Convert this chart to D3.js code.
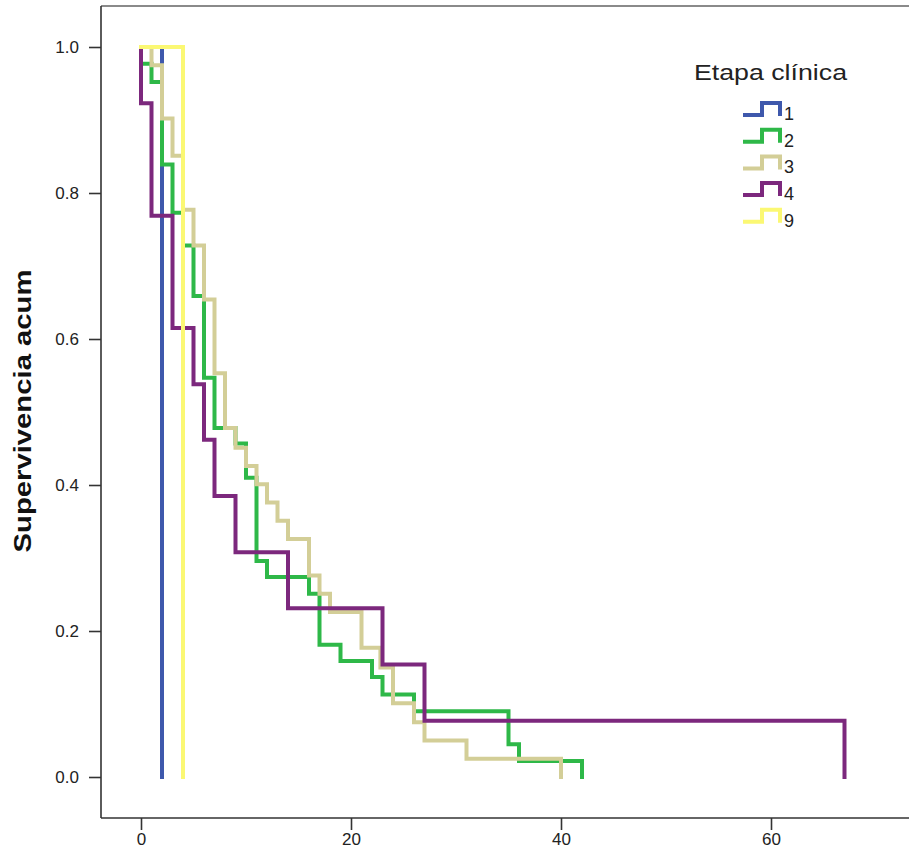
<!DOCTYPE html>
<html>
<head>
<meta charset="utf-8">
<script src="https://cdn.jsdelivr.net/npm/d3@7"></script>
<style>
  body { margin: 0; background: #fff; }
  svg { display: block; }
  text { font-family: "Liberation Sans", Arial, sans-serif; }
</style>
</head>
<body>
<svg id="chart" width="909" height="857"></svg>
<script>
// ---- data ----
const groups = ["1", "2", "3", "4", "9"];
const colors = ["#3E58AC", "#2EB848", "#D3CE97", "#7C287D", "#FBF873"];

const times1 = [0, 2];
const surv1  = [1, 0];

const times2 = [0, 0, 1, 2, 3, 4, 5, 6, 7, 9, 10, 11, 12, 16, 17, 19, 22, 23, 26, 35, 36, 42];
const surv2  = [1, 0.977, 0.952, 0.839, 0.773, 0.728, 0.659, 0.547, 0.478, 0.457, 0.410, 0.296, 0.274, 0.251, 0.181, 0.159, 0.137, 0.113, 0.090, 0.045, 0.022, 0];

const times3 = [0, 1, 2, 3, 4, 5, 6, 7, 8, 9, 10, 11, 12, 13, 14, 16, 17, 18, 21, 22.8, 24, 26, 27, 31, 40];
const surv3  = [1, 0.975, 0.902, 0.851, 0.777, 0.728, 0.654, 0.553, 0.478, 0.451, 0.426, 0.401, 0.376, 0.351, 0.326, 0.276, 0.251, 0.226, 0.177, 0.150, 0.101, 0.075, 0.050, 0.025, 0];

const times4 = [0, 0, 1, 3, 5, 6, 7, 9, 14, 23, 27, 67];
const surv4  = [1, 0.923, 0.769, 0.615, 0.538, 0.462, 0.385, 0.308, 0.231, 0.154, 0.077, 0];

const times9 = [0, 4];
const surv9  = [1, 0];

const xTicks = [0, 20, 40, 60];
const yTicks = [0, 0.2, 0.4, 0.6, 0.8, 1.0];

const yTitle = "Supervivencia acum";
const legendTitle = "Etapa clínica";

// ---- drawing ----
const svg = d3.select("#chart");
svg.append("rect").attr("width", 909).attr("height", 857).attr("fill", "#fff");

const x = d3.scaleLinear().domain([0, 60]).range([141, 771]);
const y = d3.scaleLinear().domain([0, 1]).range([777, 47]);

const plotLeft = 101, plotTop = 6, plotBottom = 818, plotRight = 920;

// frame
svg.append("line").attr("x1", plotLeft).attr("x2", plotRight).attr("y1", plotTop).attr("y2", plotTop)
  .attr("stroke", "#8a8a8a").attr("stroke-width", 2);
svg.append("line").attr("x1", plotLeft).attr("x2", plotLeft).attr("y1", plotTop).attr("y2", plotBottom)
  .attr("stroke", "#333").attr("stroke-width", 1.6);
svg.append("line").attr("x1", plotLeft).attr("x2", plotRight).attr("y1", plotBottom).attr("y2", plotBottom)
  .attr("stroke", "#333").attr("stroke-width", 1.6);

// axes
const yAxis = d3.axisLeft(y).tickValues(yTicks).tickFormat(d3.format(".1f")).tickSize(12).tickPadding(10);
const gy = svg.append("g").attr("transform", `translate(${plotLeft},0)`).call(yAxis);
gy.select(".domain").remove();
gy.selectAll(".tick line").attr("stroke", "#333").attr("stroke-width", 1.6);
gy.selectAll(".tick text").attr("font-size", 17).attr("fill", "#222")
  .attr("font-family", "'Liberation Sans', Arial, sans-serif");

const xAxis = d3.axisBottom(x).tickValues(xTicks).tickFormat(d3.format("d")).tickSize(12).tickPadding(3);
const gx = svg.append("g").attr("transform", `translate(0,${plotBottom})`).call(xAxis);
gx.select(".domain").remove();
gx.selectAll(".tick line").attr("stroke", "#333").attr("stroke-width", 1.6);
gx.selectAll(".tick text").attr("font-size", 17).attr("fill", "#222")
  .attr("font-family", "'Liberation Sans', Arial, sans-serif");

// y title
svg.append("text")
  .attr("transform", "translate(31,411) rotate(-90)")
  .attr("text-anchor", "middle")
  .attr("font-size", 23).attr("font-weight", "bold").attr("fill", "#111")
  .attr("textLength", 283).attr("lengthAdjust", "spacingAndGlyphs")
  .text(yTitle);

// survival curves
const series = [
  { t: times1, s: surv1 },
  { t: times2, s: surv2 },
  { t: times3, s: surv3 },
  { t: times4, s: surv4 },
  { t: times9, s: surv9 }
];
const line = d3.line().x(d => x(d[0])).y(d => y(d[1])).curve(d3.curveStepAfter);
series.forEach((ser, i) => {
  const pts = ser.t.map((t, k) => [t, ser.s[k]]);
  svg.append("path").attr("d", line(pts)).attr("fill", "none")
    .attr("stroke", colors[i]).attr("stroke-width", 4)
    .attr("stroke-linejoin", "miter").attr("stroke-linecap", "square");
});

// legend
svg.append("text").attr("x", 694).attr("y", 80).attr("font-size", 22).attr("fill", "#222")
  .attr("textLength", 153).attr("lengthAdjust", "spacingAndGlyphs")
  .text(legendTitle);
const lg = svg.append("g");
groups.forEach((g, i) => {
  const by = 120 + i * 26.7;
  lg.append("path")
    .attr("d", `M743,${by - 5}H762V${by - 17}H780V${by - 4}`)
    .attr("fill", "none").attr("stroke", colors[i]).attr("stroke-width", 4);
  lg.append("text").attr("x", 784).attr("y", by).attr("font-size", 18).attr("fill", "#222").text(g);
});
</script>
</body>
</html>
